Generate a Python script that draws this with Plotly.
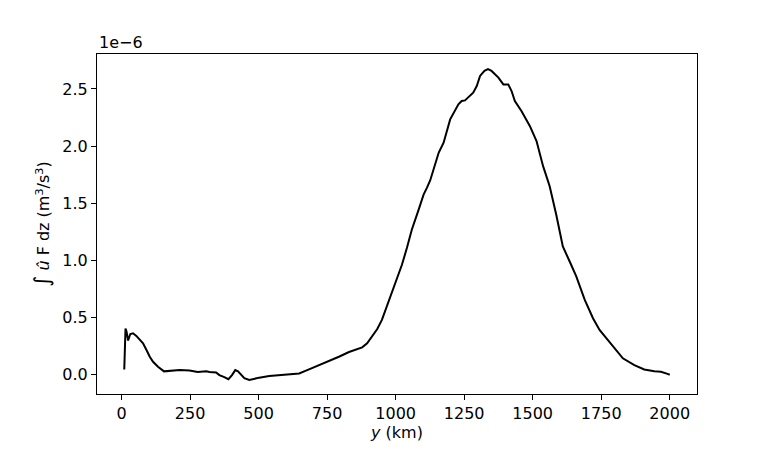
import plotly.graph_objects as go

# y position (km)
y_km = [10, 14.5, 18, 24, 32, 42, 54, 66, 78.5, 91, 103, 115, 133, 155, 175, 212, 248, 278, 309, 321,
        345, 357, 375, 390, 403, 415, 425, 436, 448, 466, 490, 502, 539, 563, 617, 648, 684, 727, 763,
        793, 830, 854, 878, 896, 914, 933, 950, 974, 998, 1023, 1041, 1059, 1084, 1102, 1114, 1126,
        1157, 1175, 1199, 1229, 1241, 1253, 1283, 1296, 1308, 1324, 1337, 1350, 1375, 1393, 1411,
        1423, 1435, 1459, 1490, 1514, 1538, 1562, 1586, 1610, 1635, 1659, 1690, 1720, 1744, 1774,
        1805, 1829, 1871, 1907, 1944, 1968, 1992, 2000]
# integral value (units of 1e-6 m^3/s^3)
flux = [0.047, 0.405, 0.38, 0.30, 0.357, 0.363, 0.34, 0.31, 0.275, 0.217, 0.158, 0.114, 0.07, 0.03,
        0.035, 0.041, 0.038, 0.024, 0.03, 0.024, 0.021, -0.003, -0.02, -0.038, -0.003, 0.041, 0.03,
        -0.003, -0.03, -0.046, -0.032, -0.025, -0.011, -0.005, 0.003, 0.012, 0.047, 0.088, 0.129,
        0.158, 0.199, 0.222, 0.24, 0.275, 0.333, 0.40, 0.48, 0.64, 0.787, 0.962, 1.109, 1.269, 1.445,
        1.576, 1.635, 1.70, 1.942, 2.03, 2.234, 2.366, 2.395, 2.40, 2.468, 2.526, 2.614, 2.658, 2.673,
        2.658, 2.60, 2.54, 2.54, 2.482, 2.395, 2.307, 2.175, 2.044, 1.825, 1.649, 1.40, 1.123, 0.991,
        0.86, 0.655, 0.495, 0.392, 0.304, 0.217, 0.144, 0.085, 0.047, 0.032, 0.026, 0.008, 0.0]

x_ticks = [0, 250, 500, 750, 1000, 1250, 1500, 1750, 2000]
y_ticks = [0.0, 0.5, 1.0, 1.5, 2.0, 2.5]

fig = go.Figure()
fig.add_trace(go.Scatter(x=y_km, y=flux, mode="lines",
                         line=dict(color="black", width=2), showlegend=False))

font = dict(family="DejaVu Sans", size=16, color="black")
axis_common = dict(showline=True, linecolor="black", linewidth=1, mirror=True,
                   ticks="outside", ticklen=5, tickwidth=1, tickcolor="black",
                   showgrid=False, zeroline=False, tickfont=font)

fig.update_layout(
    width=775, height=452,
    margin=dict(l=89, r=86, t=46, b=66),
    paper_bgcolor="white", plot_bgcolor="white",
    font=font,
    xaxis=dict(range=[-89.5, 2099.5], tickvals=x_ticks,
               title=dict(text="<i>y</i> (km)", font=font, standoff=0), **axis_common),
    yaxis=dict(range=[-0.168, 2.806], tickvals=y_ticks, tickformat=".1f",
               title=dict(text="<span style='font-size:21px'>∫</span> <i>û</i> F dz (m<sup>3</sup>/s<sup>3</sup>)",
                          font=font, standoff=8),
               **axis_common),
    annotations=[dict(text="1e−6", xref="paper", yref="paper", x=0, y=1,
                      xanchor="left", yanchor="bottom", showarrow=False, yshift=0, font=font)],
)

fig.write_html("out.html")
